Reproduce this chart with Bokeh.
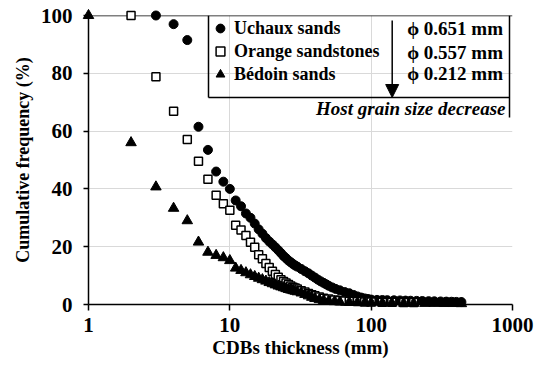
from bokeh.plotting import figure
from bokeh.models import FixedTicker, Legend, LegendItem, Label, Arrow, NormalHead, Span
from bokeh.embed import file_html
from bokeh.resources import INLINE

# Cumulative frequency (%) of CDB thickness (mm) for each host sand
uchaux_mm = [3, 4, 5, 6, 7, 8, 9, 10, 11, 12, 13, 14, 15, 16, 17, 18, 19, 20, 21, 22,
             23, 24, 25, 26, 27, 28, 29, 30, 32, 34, 36, 38, 40, 42, 44, 46, 48, 50,
             53, 56, 60, 65, 70, 75, 80, 85, 90, 95, 100, 110, 120, 130, 145, 160,
             175, 190, 210, 230, 255, 280, 310, 340, 370, 400, 435]
uchaux_pct = [100, 97, 91.5, 61.5, 53.5, 46, 42.5, 40, 36, 34, 31.5, 30, 28, 26, 24.5,
              23, 21.8, 20.8, 19.8, 18.8, 17.8, 16.8, 16, 15.2, 14.6, 14, 13.5, 13.1,
              12.3, 11.5, 10.8, 10, 9.3, 8.6, 8, 7.5, 7, 6.5, 5.9, 5.4, 4.9, 4.3, 3.9,
              3.3, 2.8, 2.4, 2.1, 1.9, 1.7, 1.6, 1.55, 1.5, 1.45, 1.4, 1.35, 1.3, 1.25,
              1.2, 1.15, 1.1, 1.05, 1.0, 0.95, 0.9, 0.85]

orange_mm = [2, 3, 4, 5, 6, 7, 8, 9, 10, 11, 12, 13, 14, 15, 16, 17, 18, 19, 20, 21, 22,
             23, 24, 25, 26, 27, 28, 29, 30, 32, 34, 36, 38, 40, 43, 46, 50, 55, 60, 65,
             70, 80, 90, 100, 120, 140, 170, 200]
orange_pct = [100, 78.8, 66.9, 57.1, 49.6, 43.3, 37.8, 34.9, 32.6, 27.4, 25.8, 23.9, 21.5,
              19.8, 17.2, 15.8, 14.2, 12.8, 11.5, 10.4, 9.4, 8.6, 8, 7.4, 6.9, 6.4, 6,
              5.7, 5.4, 4.8, 4.3, 3.8, 3.4, 3, 2.6, 2.2, 1.9, 1.6, 1.4, 1.25, 1.1, 1,
              0.9, 0.85, 0.8, 0.75, 0.7, 0.65]

bedoin_mm = [1, 2, 3, 4, 5, 6, 7, 8, 9, 10, 11, 12, 13, 14, 15, 16, 17, 18, 19, 20, 21,
             22, 23, 24, 25, 26, 27, 28, 29, 30, 32, 34, 36, 38, 40, 43, 46, 50, 55, 60,
             70, 80, 90, 100, 120, 140, 170, 200, 240, 280, 330, 380, 435]
bedoin_pct = [100, 56, 40.7, 33.3, 29, 21.6, 18.1, 17, 16.2, 15.2, 12.6, 11.8, 11, 10.3,
              9.7, 9.1, 8.6, 8.1, 7.6, 7.2, 6.8, 6.4, 6.1, 5.8, 5.5, 5.2, 5, 4.8, 4.6,
              4.4, 4, 3.5, 3, 2.5, 2.1, 1.7, 1.4, 1.2, 1, 0.9, 0.8, 0.7, 0.65, 0.6, 0.55,
              0.5, 0.45, 0.45, 0.4, 0.4, 0.35, 0.35, 0.3]

series_names = ["Uchaux sands", "Orange sandstones", "Bédoin sands"]
grain_mm = [0.651, 0.557, 0.212]

x_ticks = [1, 10, 100, 1000]
x_tick_labels = ["1", "10", "100", "1000"]
y_ticks = [0, 20, 40, 60, 80, 100]

FONT = "Liberation Serif"

p = figure(width=534, height=371, x_axis_type="log", x_range=(1, 1000), y_range=(0, 100),
           output_backend="svg", toolbar_location=None,
           min_border_left=88, min_border_right=22, min_border_top=15, min_border_bottom=67)
p.outline_line_color = None
p.background_fill_color = "white"

# axes
p.xaxis.ticker = FixedTicker(ticks=x_ticks)
p.xaxis.major_label_overrides = {float(t): s for t, s in zip(x_ticks, x_tick_labels)}
p.yaxis.ticker = FixedTicker(ticks=y_ticks)
p.xaxis.axis_label = "CDBs thickness (mm)"
p.yaxis.axis_label = "Cumulative frequency (%)"
for ax in (p.xaxis, p.yaxis):
    ax.axis_line_color = "black"
    ax.axis_line_width = 1.5
    ax.major_tick_line_color = "black"
    ax.major_tick_line_width = 1.5
    ax.major_tick_in = 0
    ax.minor_tick_line_color = None
    ax.major_label_text_font = FONT
    ax.major_label_text_font_style = "bold"
    ax.major_label_text_font_size = "21px"
    ax.major_label_text_color = "black"
    ax.axis_label_text_font = FONT
    ax.axis_label_text_font_style = "bold"
    ax.axis_label_text_font_size = "19px"
    ax.axis_label_text_color = "black"
p.yaxis.axis_label_text_font_size = "18px"
p.xaxis.major_tick_out = 6
p.xaxis.major_label_standoff = 7
p.xaxis.axis_label_standoff = 2
p.yaxis.major_tick_out = 5
p.yaxis.major_label_standoff = 11
p.yaxis.axis_label_standoff = 5

# grid
p.xgrid.ticker = FixedTicker(ticks=[10, 100])
p.ygrid.ticker = FixedTicker(ticks=[20, 40, 60, 80])
p.grid.grid_line_color = "#d9d9d9"
p.grid.grid_line_width = 1

# top border line at 100 %
p.add_layout(Span(location=100, dimension="width", line_color="black", line_width=1.5))

# series
r_u = p.scatter(uchaux_mm, uchaux_pct, marker="circle", size=9,
                fill_color="black", line_color="black", level="overlay")
r_o = p.scatter(orange_mm, orange_pct, marker="square", size=8,
                fill_color="white", line_color="black", line_width=1.5, level="overlay")
r_b = p.scatter(bedoin_mm, bedoin_pct, marker="triangle", size=10.5,
                fill_color="black", line_color="black", level="overlay")

legend = Legend(
    items=[LegendItem(label=n, renderers=[r]) for n, r in zip(series_names, [r_u, r_o, r_b])],
    location=(121, 219), orientation="vertical",
    border_line_color=None, background_fill_alpha=0,
    padding=0, spacing=1, margin=0,
    glyph_width=22, glyph_height=22, label_height=22, label_standoff=3,
    label_text_font=FONT, label_text_font_style="bold", label_text_font_size="18px",
    label_text_color="black",
)
p.add_layout(legend)

# legend frame (screen units from the frame's bottom-left corner)
frame_lines = [
    (120, 289, 120, 207),   # left edge
    (421, 289, 421, 187),   # right edge
    (120, 207, 421, 207),   # divider under the entries
]
for xs, ys, xe, ye in frame_lines:
    p.add_layout(Arrow(x_start=xs, y_start=ys, x_end=xe, y_end=ye,
                       start_units="screen", end_units="screen",
                       start=None, end=None, line_color="black", line_width=1.5))

# grain size arrow
p.add_layout(Arrow(x_start=303.7, y_start=284, x_end=303.7, y_end=207,
                   start_units="screen", end_units="screen", line_color="black", line_width=1.5,
                   end=NormalHead(size=13, fill_color="black", line_color="black")))

for g, ys in zip(grain_mm, [276, 252.5, 231]):
    p.add_layout(Label(x=318.7, y=ys, x_units="screen", y_units="screen",
                       text=f"\u03d5 {g:.3f} mm", text_font=FONT, text_font_style="bold",
                       text_font_size="19px", text_baseline="middle", text_align="left",
                       text_color="black"))

p.add_layout(Label(x=417, y=196, x_units="screen", y_units="screen",
                   text="Host grain size decrease", text_font=FONT,
                   text_font_style="bold italic", text_font_size="19px",
                   text_baseline="middle", text_align="right", text_color="black"))

open("out.html", "w").write(file_html(p, INLINE))
